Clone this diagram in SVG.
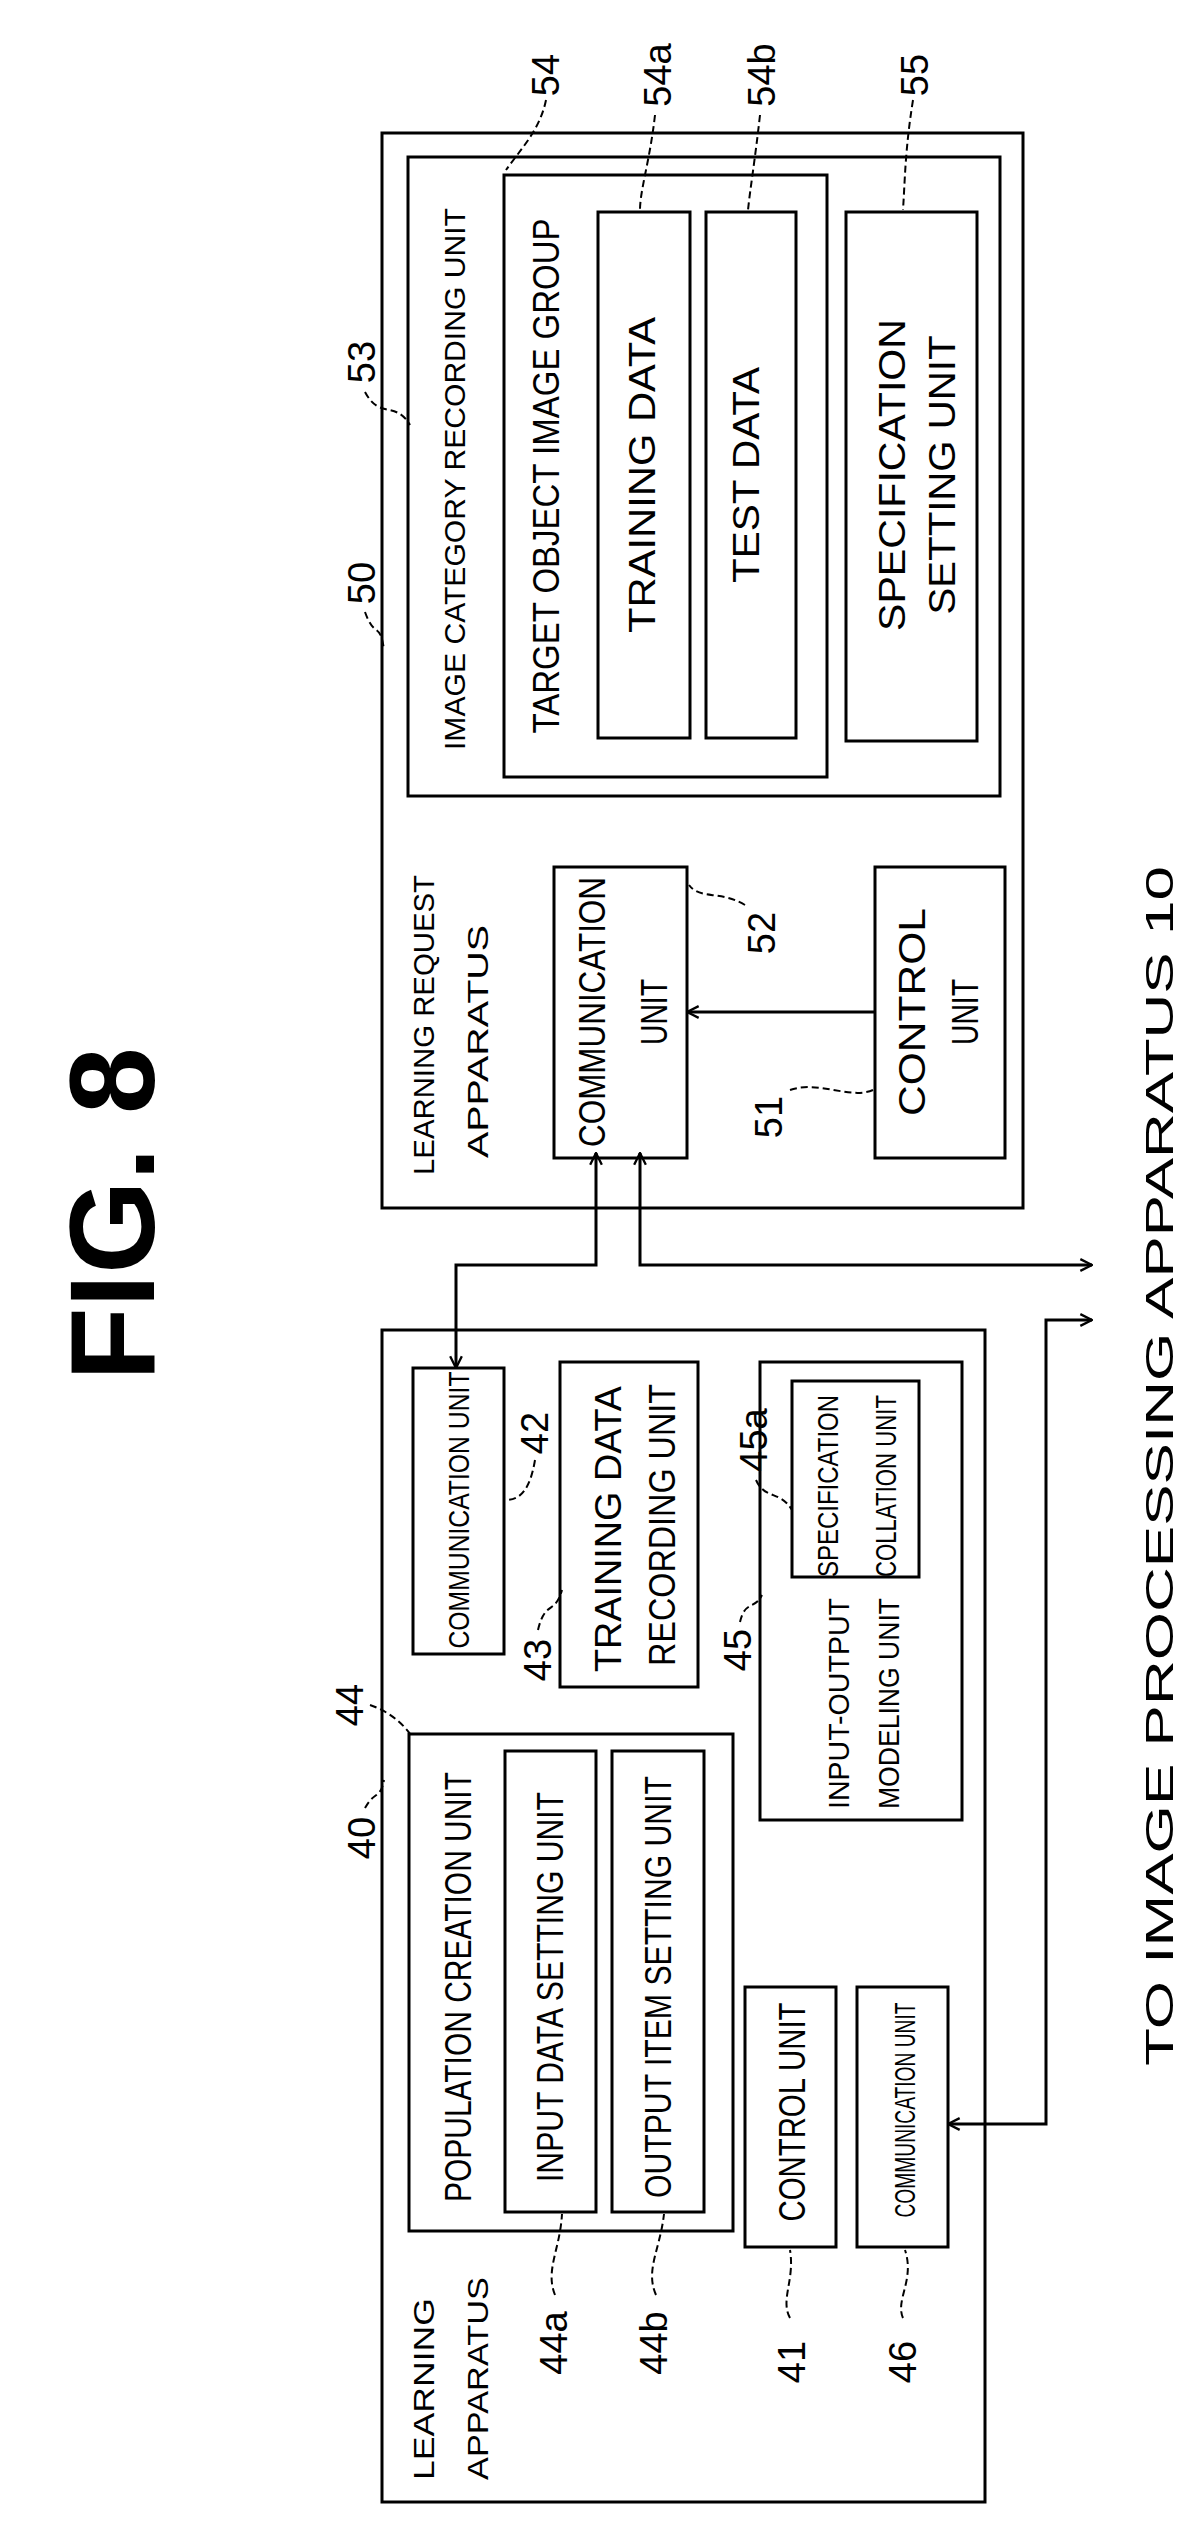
<svg xmlns="http://www.w3.org/2000/svg" width="1202" height="2524" viewBox="0 0 1202 2524">
<defs>
<style>
.b{fill:none;stroke:#000;stroke-width:3}
.c{fill:none;stroke:#000;stroke-width:3}
.l{fill:none;stroke:#000;stroke-width:2;stroke-dasharray:7 4}
text{font-family:"Liberation Sans",Arial,sans-serif;fill:#000;dominant-baseline:central}
.t{font-size:36px}
.s{font-size:30px}
.n{font-size:38px}
</style>
<marker id="a" viewBox="0 0 12 12" refX="11" refY="6" markerWidth="14" markerHeight="14" markerUnits="userSpaceOnUse" orient="auto-start-reverse"><path d="M1,1 L11,6 L1,11" fill="none" stroke="#000" stroke-width="2"/></marker>
</defs>
<rect width="1202" height="2524" fill="#fff"/>
<text transform="translate(112,1214) rotate(-90)" text-anchor="middle" style="font-size:120px;font-weight:bold">FIG. 8</text>
<text transform="translate(1160,1466) rotate(-90)" text-anchor="middle" textLength="1200" lengthAdjust="spacingAndGlyphs" style="font-size:38px">TO IMAGE PROCESSING APPARATUS 10</text>

<g id="n50"><rect class="b" x="382" y="133" width="641" height="1075"/>
<text class="s" transform="translate(423,1175) rotate(-90)" textLength="300" lengthAdjust="spacingAndGlyphs">LEARNING REQUEST</text>
<text class="s" transform="translate(477,1158) rotate(-90)" textLength="233" lengthAdjust="spacingAndGlyphs">APPARATUS</text>
<text class="n" transform="translate(362,583) rotate(-90)" text-anchor="middle">50</text>
<path class="l" d="M365,612 C375,640 380,620 384,650"/></g>
<g id="n53"><rect class="b" x="408" y="157" width="592" height="639"/>
<text class="s" transform="translate(454,479) rotate(-90)" text-anchor="middle" textLength="542" lengthAdjust="spacingAndGlyphs">IMAGE CATEGORY RECORDING UNIT</text>
<text class="n" transform="translate(362,362) rotate(-90)" text-anchor="middle">53</text>
<path class="l" d="M365,392 C380,420 395,400 410,425"/></g>
<g id="n54"><rect class="b" x="504" y="175" width="323" height="602"/>
<text class="t" transform="translate(546,476) rotate(-90)" text-anchor="middle" textLength="515" lengthAdjust="spacingAndGlyphs">TARGET OBJECT IMAGE GROUP</text>
<text class="n" transform="translate(546,75) rotate(-90)" text-anchor="middle">54</text>
<path class="l" d="M546,100 C540,130 520,150 506,170"/></g>
<g id="n54a"><rect class="b" x="598" y="212" width="92" height="526"/>
<text class="t" transform="translate(642,475) rotate(-90)" text-anchor="middle" textLength="316" lengthAdjust="spacingAndGlyphs">TRAINING DATA</text>
<text class="n" transform="translate(658,75) rotate(-90)" text-anchor="middle">54a</text>
<path class="l" d="M655,115 C650,160 640,190 640,210"/></g>
<g id="n54b"><rect class="b" x="706" y="212" width="90" height="526"/>
<text class="t" transform="translate(746,475) rotate(-90)" text-anchor="middle" textLength="216" lengthAdjust="spacingAndGlyphs">TEST DATA</text>
<text class="n" transform="translate(762,75) rotate(-90)" text-anchor="middle">54b</text>
<path class="l" d="M760,115 C755,160 750,190 748,210"/></g>
<g id="n55"><rect class="b" x="846" y="212" width="131" height="529"/>
<text class="t" transform="translate(892,475) rotate(-90)" text-anchor="middle" textLength="312" lengthAdjust="spacingAndGlyphs">SPECIFICATION</text>
<text class="t" transform="translate(942,475) rotate(-90)" text-anchor="middle" textLength="279" lengthAdjust="spacingAndGlyphs">SETTING UNIT</text>
<text class="n" transform="translate(915,75) rotate(-90)" text-anchor="middle">55</text>
<path class="l" d="M913,100 C905,150 905,180 903,210"/></g>
<g id="n52"><rect class="b" x="554" y="867" width="133" height="291"/>
<text class="t" transform="translate(592,1012) rotate(-90)" text-anchor="middle" textLength="270" lengthAdjust="spacingAndGlyphs">COMMUNICATION</text>
<text class="t" transform="translate(654,1012) rotate(-90)" text-anchor="middle" textLength="66" lengthAdjust="spacingAndGlyphs">UNIT</text>
<text class="n" transform="translate(762,933) rotate(-90)" text-anchor="middle">52</text>
<path class="l" d="M745,905 C720,890 700,900 689,885"/></g>
<g id="n51"><rect class="b" x="875" y="867" width="130" height="291"/>
<text class="t" transform="translate(912,1012) rotate(-90)" text-anchor="middle" textLength="208" lengthAdjust="spacingAndGlyphs">CONTROL</text>
<text class="t" transform="translate(965,1012) rotate(-90)" text-anchor="middle" textLength="66" lengthAdjust="spacingAndGlyphs">UNIT</text>
<text class="n" transform="translate(769,1117) rotate(-90)" text-anchor="middle">51</text>
<path class="l" d="M790,1090 C820,1080 850,1100 873,1090"/></g>

<g id="n40"><rect class="b" x="382" y="1330" width="603" height="1172"/>
<text class="s" transform="translate(423,2480) rotate(-90)" textLength="182" lengthAdjust="spacingAndGlyphs">LEARNING</text>
<text class="s" transform="translate(477,2480) rotate(-90)" textLength="203" lengthAdjust="spacingAndGlyphs">APPARATUS</text>
<text class="n" transform="translate(362,1838) rotate(-90)" text-anchor="middle">40</text>
<path class="l" d="M365,1808 C375,1790 380,1800 384,1780"/></g>
<g id="n42"><rect class="b" x="413" y="1368" width="91" height="286"/>
<text class="s" transform="translate(458,1510) rotate(-90)" text-anchor="middle" textLength="277" lengthAdjust="spacingAndGlyphs">COMMUNICATION UNIT</text>
<text class="n" transform="translate(535,1433) rotate(-90)" text-anchor="middle">42</text>
<path class="l" d="M535,1460 C530,1490 520,1500 506,1500"/></g>
<g id="n43"><rect class="b" x="560" y="1362" width="138" height="325"/>
<text class="t" transform="translate(608,1529) rotate(-90)" text-anchor="middle" textLength="286" lengthAdjust="spacingAndGlyphs">TRAINING DATA</text>
<text class="t" transform="translate(662,1525) rotate(-90)" text-anchor="middle" textLength="282" lengthAdjust="spacingAndGlyphs">RECORDING UNIT</text>
<text class="n" transform="translate(538,1660) rotate(-90)" text-anchor="middle">43</text>
<path class="l" d="M538,1630 C545,1600 555,1615 562,1590"/></g>
<g id="n44"><rect class="b" x="409" y="1734" width="324" height="497"/>
<text class="t" transform="translate(458,1987) rotate(-90)" text-anchor="middle" textLength="430" lengthAdjust="spacingAndGlyphs">POPULATION CREATION UNIT</text>
<text class="n" transform="translate(350,1705) rotate(-90)" text-anchor="middle">44</text>
<path class="l" d="M370,1705 C385,1710 400,1720 411,1735"/></g>
<g id="n44a"><rect class="b" x="505" y="1751" width="91" height="461"/>
<text class="t" transform="translate(550,1987) rotate(-90)" text-anchor="middle" textLength="390" lengthAdjust="spacingAndGlyphs">INPUT DATA SETTING UNIT</text>
<text class="n" transform="translate(554,2343) rotate(-90)" text-anchor="middle">44a</text>
<path class="l" d="M555,2295 C545,2270 560,2250 562,2214"/></g>
<g id="n44b"><rect class="b" x="612" y="1751" width="92" height="461"/>
<text class="t" transform="translate(658,1987) rotate(-90)" text-anchor="middle" textLength="422" lengthAdjust="spacingAndGlyphs">OUTPUT ITEM SETTING UNIT</text>
<text class="n" transform="translate(654,2343) rotate(-90)" text-anchor="middle">44b</text>
<path class="l" d="M656,2295 C645,2270 660,2250 664,2214"/></g>
<g id="n45"><rect class="b" x="760" y="1362" width="202" height="458"/>
<text class="s" transform="translate(838,1809) rotate(-90)" textLength="211" lengthAdjust="spacingAndGlyphs">INPUT-OUTPUT</text>
<text class="s" transform="translate(888,1809) rotate(-90)" textLength="211" lengthAdjust="spacingAndGlyphs">MODELING UNIT</text>
<text class="n" transform="translate(738,1650) rotate(-90)" text-anchor="middle">45</text>
<path class="l" d="M740,1622 C745,1600 755,1610 762,1595"/></g>
<g id="n45a"><rect class="b" x="792" y="1381" width="127" height="196"/>
<text class="s" transform="translate(827,1486) rotate(-90)" text-anchor="middle" textLength="182" lengthAdjust="spacingAndGlyphs">SPECIFICATION</text>
<text class="s" transform="translate(885,1486) rotate(-90)" text-anchor="middle" textLength="182" lengthAdjust="spacingAndGlyphs">COLLATION UNIT</text>
<text class="n" transform="translate(754,1440) rotate(-90)" text-anchor="middle">45a</text>
<path class="l" d="M756,1480 C765,1500 780,1490 792,1510"/></g>
<g id="n41"><rect class="b" x="745" y="1987" width="91" height="260"/>
<text class="t" transform="translate(792,2112) rotate(-90)" text-anchor="middle" textLength="219" lengthAdjust="spacingAndGlyphs">CONTROL UNIT</text>
<text class="n" transform="translate(792,2362) rotate(-90)" text-anchor="middle">41</text>
<path class="l" d="M790,2318 C780,2300 795,2280 790,2250"/></g>
<g id="n46"><rect class="b" x="857" y="1987" width="91" height="260"/>
<text class="s" transform="translate(904,2110) rotate(-90)" text-anchor="middle" textLength="215" lengthAdjust="spacingAndGlyphs">COMMUNICATION UNIT</text>
<text class="n" transform="translate(903,2362) rotate(-90)" text-anchor="middle">46</text>
<path class="l" d="M903,2318 C895,2300 915,2280 905,2250"/></g>

<g id="connectors">
<path class="c" d="M875,1012 H687" marker-end="url(#a)"/>
<path class="c" d="M456,1368 V1265 H596 V1153" marker-start="url(#a)" marker-end="url(#a)"/>
<path class="c" d="M640,1153 V1265 H1092" marker-start="url(#a)" marker-end="url(#a)"/>
<path class="c" d="M948,2124 H1046 V1320 H1092" marker-start="url(#a)" marker-end="url(#a)"/>
</g>
</svg>
